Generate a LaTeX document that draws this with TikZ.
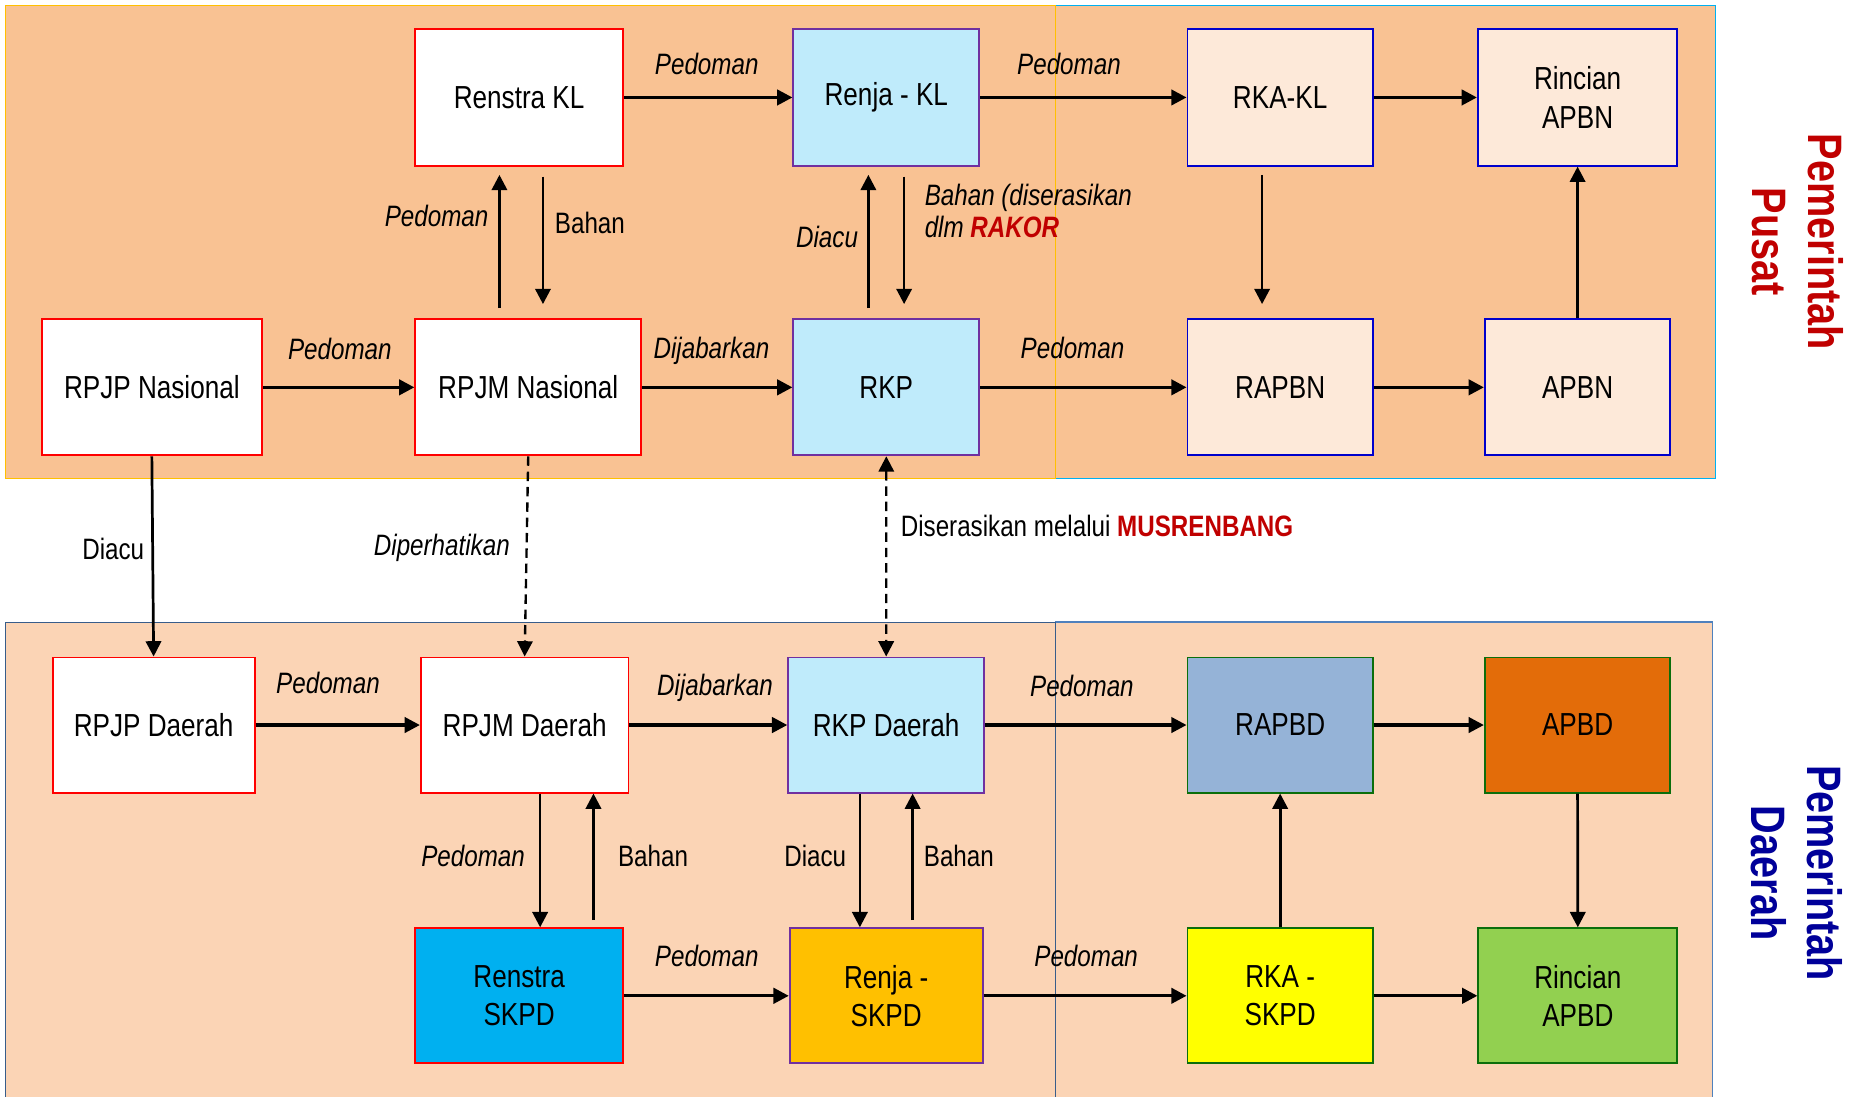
\documentclass[tikz,border=0pt]{standalone}
\usepackage{fontspec}
\setmainfont{Liberation Sans}[FakeStretch=0.82]
\usetikzlibrary{arrows.meta}

% palette
\definecolor{panelTop}{HTML}{F9C293}
\definecolor{panelBot}{HTML}{FBD4B5}
\definecolor{edgeGold}{HTML}{FFC000}
\definecolor{edgeCyan}{HTML}{00B0F0}
\definecolor{edgeNavy}{HTML}{385D8A}
\definecolor{edgeSky}{HTML}{4F81BD}
\definecolor{cRed}{HTML}{FF0000}
\definecolor{cPurple}{HTML}{7030A0}
\definecolor{cBlue}{HTML}{0000CC}
\definecolor{cGreen}{HTML}{0B6E0B}
\definecolor{fLight}{HTML}{BFEBFB}
\definecolor{fCream}{HTML}{FDE9D9}
\definecolor{fSteel}{HTML}{95B3D7}
\definecolor{fOrange}{HTML}{E36C09}
\definecolor{fCyan}{HTML}{00B0F0}
\definecolor{fAmber}{HTML}{FFC000}
\definecolor{fYellow}{HTML}{FFFF00}
\definecolor{fLime}{HTML}{92D050}
\definecolor{hiRed}{HTML}{C00000}
\definecolor{hiBlue}{HTML}{000099}

\newcommand\nodefnt{\fontsize{27}{32.5}\selectfont}
\newcommand\lblfnt{\fontsize{25}{26.8}\selectfont}
\newcommand\sidefnt{\fontsize{41}{47.5}\selectfont\bfseries}

\tikzset{
  box/.style={draw, line width=1.6pt, inner sep=2pt, align=center, font=\nodefnt, text=black},
  redbox/.style={box, draw=cRed, fill=white},
  purplebox/.style={box, draw=cPurple, fill=fLight},
  bluebox/.style={box, draw=cBlue, fill=fCream},
  greenbox/.style={box, draw=cGreen},
  lbl/.style={font=\lblfnt, inner sep=0pt, text=black},
  lbli/.style={font=\lblfnt\itshape, inner sep=0pt, text=black},
  tip/.style={-{Triangle[length=13pt,width=13pt]}},
  harrow/.style={line width=2.8pt, tip},
  varrow/.style={line width=2.3pt, tip},
  dasharrow/.style={line width=2pt, dash pattern=on 8pt off 5pt, tip},
  panel/.style={line width=1.1pt}
}

\begin{document}
\begin{tikzpicture}[x=1pt, y=-1pt]
\useasboundingbox (0,0) rectangle (1568,929);
\clip (0,0) rectangle (1568,929);
\fill[white] (0,0) rectangle (1568,929);

% background panels
\draw[panel, draw=edgeCyan, fill=panelTop] (894.7,4.5) rectangle (1453.7,405.3);
\draw[panel, draw=edgeGold, fill=panelTop] (4.7,4.5) rectangle (894.7,405.3);
\draw[panel, draw=edgeSky, fill=panelBot] (894.7,527.3) rectangle (1451.5,945);
\draw[panel, draw=edgeNavy, fill=panelBot] (4.7,527.8) rectangle (894.7,945);

% national level
\node[redbox, minimum width=176pt, minimum height=115.6pt] (RenstraKL) at (440,82.6) {Renstra KL};
\node[purplebox, minimum width=157.5pt, minimum height=115.6pt] (RenjaKL) at (751.2,82.6) {Renja - KL};
\node[bluebox, minimum width=157pt, minimum height=115.6pt] (RKAKL) at (1085,82.6) {RKA-KL};
\node[bluebox, minimum width=169pt, minimum height=115.6pt] (RincianAPBN) at (1337.1,82.6) {Rincian\\APBN};

\node[redbox, minimum width=186.2pt, minimum height=115.3pt] (RPJPN) at (128.7,328.3) {RPJP Nasional};
\node[redbox, minimum width=191.4pt, minimum height=115.3pt] (RPJMN) at (447.7,328.3) {RPJM Nasional};
\node[purplebox, minimum width=157.5pt, minimum height=115.3pt] (RKP) at (751.2,328.3) {RKP};
\node[bluebox, minimum width=157pt, minimum height=115.3pt] (RAPBN) at (1085,328.3) {RAPBN};
\node[bluebox, minimum width=157.2pt, minimum height=115.3pt] (APBN) at (1337.1,328.3) {APBN};

% regional level
\node[redbox, minimum width=171.2pt, minimum height=114.5pt] (RPJPD) at (130.2,614.5) {RPJP Daerah};
\node[redbox, minimum width=176pt, minimum height=114.5pt] (RPJMD) at (444.7,614.5) {RPJM Daerah};
\node[purplebox, minimum width=166pt, minimum height=114.5pt] (RKPD) at (751.1,614.5) {RKP Daerah};
\node[greenbox, fill=fSteel, minimum width=157pt, minimum height=114.5pt] (RAPBD) at (1085,614.5) {RAPBD};
\node[greenbox, fill=fOrange, minimum width=157.2pt, minimum height=114.5pt] (APBD) at (1337.1,614.5) {APBD};

\node[redbox, fill=fCyan, minimum width=176pt, minimum height=114.5pt] (RenstraSKPD) at (440,844) {Renstra\\SKPD};
\node[purplebox, fill=fAmber, minimum width=163.5pt, minimum height=114.5pt] (RenjaSKPD) at (751.1,844) {Renja -\\SKPD};
\node[greenbox, fill=fYellow, minimum width=157pt, minimum height=114.5pt] (RKASKPD) at (1085,844) {RKA -\\SKPD};
\node[greenbox, fill=fLime, minimum width=168.6pt, minimum height=114.5pt] (RincianAPBD) at (1337.3,844) {Rincian\\APBD};

% horizontal flows
\draw[harrow] (RenstraKL.east) -- (RenjaKL.west);
\draw[harrow] (RenjaKL.east) -- (RKAKL.west);
\draw[harrow] (RKAKL.east) -- (RincianAPBN.west);
\draw[harrow] (RPJPN.east) -- (RPJMN.west);
\draw[harrow] (RPJMN.east) -- (RKP.west);
\draw[harrow] (RKP.east) -- (RAPBN.west);
\draw[harrow] (RAPBN.east) -- (APBN.west);

\draw[harrow] (RPJPD.east) -- (RPJMD.west);
\draw[harrow] (RPJMD.east) -- (RKPD.west);
\draw[harrow] (RKPD.east) -- (RAPBD.west);
\draw[harrow] (RAPBD.east) -- (APBD.west);
\draw[harrow] (RenstraSKPD.east) -- (RenjaSKPD.west);
\draw[harrow] (RenjaSKPD.east) -- (RKASKPD.west);
\draw[harrow] (RKASKPD.east) -- (RincianAPBD.west);

% vertical flows, national
\draw[varrow, shorten <=8.7pt, shorten >=7pt] ([xshift=-24.4pt]RPJMN.north) -- ([xshift=-24.4pt]RPJMN.north |- RenstraKL.south);
\draw[varrow, shorten <=8.5pt, shorten >=12.1pt] ([xshift=20.2pt]RenstraKL.south) -- ([xshift=20.2pt]RenstraKL.south |- RPJMN.north);
\draw[varrow, shorten <=8.7pt, shorten >=7pt] ([xshift=-15.2pt]RKP.north) -- ([xshift=-15.2pt]RKP.north |- RenjaKL.south);
\draw[varrow, shorten <=8.5pt, shorten >=12.1pt] ([xshift=15.1pt]RenjaKL.south) -- ([xshift=15.1pt]RenjaKL.south |- RKP.north);
\draw[varrow, shorten <=7.1pt, shorten >=12.1pt] ([xshift=-15.3pt]RKAKL.south) -- ([xshift=-15.3pt]RKAKL.south |- RAPBN.north);
\draw[varrow] (APBN.north) -- (RincianAPBN.south);

% links between the two levels
\draw[varrow] (RPJPN.south) -- (RPJPD.north);
\draw[dasharrow] (RPJMN.south) -- (RPJMD.north);
\draw[dasharrow, {Triangle[length=13pt,width=13pt]}-{Triangle[length=13pt,width=13pt]}] (RKP.south) -- (RKPD.north);

% vertical flows, regional
\draw[varrow] ([xshift=13.1pt]RPJMD.south) -- ([xshift=13.1pt]RPJMD.south |- RenstraSKPD.north);
\draw[varrow, shorten <=6pt] ([xshift=63pt]RenstraSKPD.north) -- ([xshift=63pt]RenstraSKPD.north |- RPJMD.south);
\draw[varrow] ([xshift=-22.3pt]RKPD.south) -- ([xshift=-22.3pt]RKPD.south |- RenjaSKPD.north);
\draw[varrow, shorten <=6pt] ([xshift=22.4pt]RenjaSKPD.north) -- ([xshift=22.4pt]RenjaSKPD.north |- RKPD.south);
\draw[varrow] (RKASKPD.north) -- (RAPBD.south);
\draw[varrow] (APBD.south) -- (RincianAPBD.north);

% connector labels, national
\node[lbli] (l1) at (599,54) {Pedoman};
\node[lbli] (l2) at (906,54) {Pedoman};
\node[lbli] (l3) at (288,296) {Pedoman};
\node[lbli] (l4) at (603,297) {Dijabarkan};
\node[lbli] (l5) at (909,295) {Pedoman};
\node[lbli] (l6) at (370,183) {Pedoman};
\node[lbl] (l7) at (500,189) {Bahan};
\node[lbli] (l8) at (701,201) {Diacu};
\node[lbli, anchor=north west, align=left] (l9) at (783.6,156) {Bahan (diserasikan\\dlm \textcolor{hiRed}{\bfseries RAKOR}};

% connector labels, between levels
\node[lbl] (l10) at (96,465) {Diacu};
\node[lbli] (l11) at (374.5,464) {Diperhatikan};
\node[lbl, anchor=base west] (l12) at (763.3,454.5) {Diserasikan melalui \textcolor{hiRed}{\bfseries MUSRENBANG}};

% connector labels, regional
\node[lbli] (l13) at (278,579) {Pedoman};
\node[lbli] (l14) at (606,583) {Dijabarkan};
\node[lbli] (l15) at (917,581) {Pedoman};
\node[lbli] (l16) at (401,725.5) {Pedoman};
\node[lbl] (l17) at (553.5,725.5) {Bahan};
\node[lbl] (l18) at (691,725.5) {Diacu};
\node[lbl] (l19) at (812.7,725.5) {Bahan};
\node[lbli] (l20) at (599,810) {Pedoman};
\node[lbli] (l21) at (920.6,810) {Pedoman};

% level titles
\node[font=\sidefnt, text=hiRed, rotate=-90, align=center, inner sep=0pt] (pusat) at (1524,205) {Pemerintah\\Pusat};
\node[font=\sidefnt, text=hiBlue, rotate=-90, align=center, inner sep=0pt] (daerah) at (1523,740) {Pemerintah\\Daerah};
\end{tikzpicture}
\end{document}
